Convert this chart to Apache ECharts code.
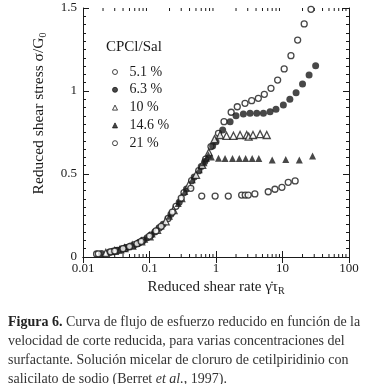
<!DOCTYPE html>
<html><head><meta charset="utf-8">
<script src="https://cdn.jsdelivr.net/npm/echarts@6/dist/echarts.min.js"></script>
<style>html,body{margin:0;padding:0;background:#fff}#c{width:368px;height:384px}</style>
</head><body><div id="c"></div>
<script>
const xTicks = [0.01, 0.1, 1, 10, 100];
const xMinorTicks = [0.02,0.03,0.04,0.05,0.06,0.07,0.08,0.09,0.2,0.3,0.4,0.5,0.6,0.7,0.8,0.9,2,3,4,5,6,7,8,9,20,30,40,50,60,70,80,90];
const yTicks = [0, 0.5, 1, 1.5];
const seriesNames = ['5.1 %', '6.3 %', '10 %', '14.6 %', '21 %'];

const s51 = [[0.016,0.018],[0.025,0.029],[0.033,0.040],[0.039,0.048],[0.045,0.057],[0.06,0.075],[0.07,0.087],[0.08,0.100],[0.105,0.132],[0.14,0.175],[0.19,0.232],[0.25,0.305],[0.33,0.388],[0.43,0.46],[0.55,0.52],[0.7,0.59],[0.84,0.665],[1.09,0.745],[1.32,0.815],[1.69,0.872],[2.09,0.905],[2.73,0.926],[3.44,0.942],[4.33,0.956],[5.33,0.98],[6.71,1.016],[8.45,1.066],[10.6,1.133],[13.4,1.213],[16.9,1.307],[21.2,1.404],[26.8,1.492]];
const s63 = [[0.019,0.021],[0.028,0.034],[0.032,0.039],[0.038,0.047],[0.044,0.055],[0.052,0.066],[0.07,0.088],[0.092,0.116],[0.12,0.15],[0.16,0.197],[0.21,0.258],[0.28,0.33],[0.36,0.41],[0.47,0.482],[0.6,0.545],[0.68,0.575],[0.89,0.669],[1.0,0.695],[1.26,0.765],[1.63,0.815],[2.0,0.851],[2.58,0.861],[3.25,0.866],[4.1,0.866],[5.16,0.866],[6.5,0.875],[7.98,0.89],[10.3,0.916],[12.9,0.95],[16.0,0.99],[20.0,1.042],[25.1,1.096],[31.5,1.152]];
const s10 = [[0.022,0.025],[0.03,0.037],[0.036,0.044],[0.042,0.053],[0.055,0.069],[0.075,0.094],[0.1,0.125],[0.13,0.163],[0.175,0.215],[0.23,0.283],[0.3,0.355],[0.39,0.435],[0.5,0.495],[0.62,0.555],[0.78,0.63],[0.95,0.71],[1.15,0.735],[1.44,0.73],[1.83,0.73],[2.3,0.735],[2.9,0.735],[3.1,0.725],[3.6,0.735],[4.6,0.74],[5.8,0.735]];
const s146 = [[0.027,0.031],[0.035,0.043],[0.041,0.051],[0.048,0.061],[0.056,0.070],[0.065,0.081],[0.085,0.107],[0.11,0.138],[0.15,0.186],[0.2,0.245],[0.27,0.322],[0.34,0.395],[0.44,0.465],[0.56,0.525],[0.66,0.568],[0.72,0.595],[0.77,0.614],[0.85,0.602],[1.09,0.595],[1.37,0.594],[1.77,0.594],[2.24,0.594],[2.79,0.594],[3.5,0.594],[4.4,0.594],[7.0,0.585],[11.2,0.588],[17.9,0.585],[28.3,0.608]];
const s21 = [[0.017,0.019],[0.026,0.031],[0.03,0.036],[0.04,0.05],[0.05,0.063],[0.065,0.08],[0.075,0.094],[0.1,0.126],[0.125,0.157],[0.15,0.185],[0.22,0.27],[0.3,0.355],[0.418,0.414],[0.61,0.367],[0.97,0.367],[1.53,0.367],[2.43,0.373],[2.75,0.373],[3.05,0.373],[3.84,0.38],[6.1,0.393],[7.7,0.408],[9.8,0.42],[12.2,0.45],[15.5,0.458]];

const INK = '#1a1a1a';
const SERIF = '"Liberation Serif", "Times New Roman", serif';
const chart = echarts.init(document.getElementById('c'), null, {renderer: 'canvas'});

function sc(name, data, symbol, filled) {
  return {
    name: name, type: 'scatter', data: data, symbol: symbol,
    symbolSize: symbol === 'triangle' ? 7 : (filled ? 7 : 6),
    xAxisIndex: 0, yAxisIndex: 0,
    itemStyle: {color: filled ? INK : '#fff', borderColor: INK, borderWidth: filled ? 0 : 1.3},
    emphasis: {disabled: true}, animation: false
  };
}

const axisCommon = {
  axisLine: {show: true, lineStyle: {color: INK, width: 1}},
  splitLine: {show: false}
};

chart.setOption({
  animation: false,
  backgroundColor: '#fff',
  grid: {left: 83, right: 19, top: 8, bottom: 127, containLabel: false},
  xAxis: [
    Object.assign({}, axisCommon, {
      type: 'log', logBase: 10, min: xTicks[0], max: xTicks[xTicks.length - 1], position: 'bottom',
      axisTick: {show: true, inside: true, length: 6, lineStyle: {color: INK}},
      axisLabel: {show: true, margin: 5, color: INK, fontFamily: SERIF, fontSize: 13,
        formatter: function (v) { return String(v); }},
      name: 'Reduced shear rate {g|γ̇τ}{s|R}', nameLocation: 'middle', nameGap: 20,
      nameTextStyle: {color: INK, fontFamily: SERIF, fontSize: 15,
        rich: {g: {fontFamily: SERIF, fontSize: 15, color: INK}, s: {fontFamily: SERIF, fontSize: 10, color: INK, padding: [8, 0, 0, 0]}}}
    }),
    Object.assign({}, axisCommon, {
      type: 'log', logBase: 10, min: xTicks[0], max: xTicks[xTicks.length - 1], position: 'top',
      axisTick: {show: true, inside: true, length: 6, lineStyle: {color: INK}},
      axisLabel: {show: false}
    })
  ],
  yAxis: [
    Object.assign({}, axisCommon, {
      type: 'value', min: yTicks[0], max: yTicks[yTicks.length - 1], interval: 0.5, position: 'left',
      axisTick: {show: true, inside: true, length: 6, lineStyle: {color: INK}},
      minorTick: {show: true, splitNumber: 10, length: 3, lineStyle: {color: INK}},
      axisLabel: {show: true, margin: 6, color: INK, fontFamily: SERIF, fontSize: 13,
        formatter: function (v) { return String(v); }},
      name: 'Reduced shear stress σ/G{s|0}', nameLocation: 'middle', nameGap: 35, nameRotate: 90,
      nameTextStyle: {color: INK, fontFamily: SERIF, fontSize: 15.5, padding: [0, 0, 0, 38],
        rich: {s: {fontFamily: SERIF, fontSize: 10, color: INK, padding: [8, 0, 0, 0]}}}
    }),
    Object.assign({}, axisCommon, {
      type: 'value', min: yTicks[0], max: yTicks[yTicks.length - 1], interval: 0.5, position: 'right',
      axisTick: {show: true, inside: true, length: 6, lineStyle: {color: INK}},
      minorTick: {show: true, splitNumber: 10, length: 3, lineStyle: {color: INK}},
      axisLabel: {show: false}
    })
  ],
  legend: {
    show: true, orient: 'vertical', left: 107, top: 60,
    data: seriesNames, itemWidth: 5, itemHeight: 5, itemGap: 3.8,
    itemStyle: {borderWidth: 1},
    textStyle: {color: INK, fontFamily: SERIF, fontSize: 14, lineHeight: 14, padding: [0, 0, 0, 7]},
    selectedMode: false
  },
  graphic: [
    {type: 'text', left: 106, top: 40, silent: true,
      style: {text: 'CPCl/Sal', fill: INK, fontSize: 15, fontFamily: SERIF}},
    {type: 'text', left: 8, top: 313, silent: true,
      style: {
        text: '{b|Figura 6.} Curva de flujo de esfuerzo reducido en función de la\nvelocidad de corte reducida, para varias concentraciones del\nsurfactante. Solución micelar de cloruro de cetilpiridinio con\nsalicilato de sodio (Berret {i|et al.}, 1997).',
        fill: '#333', fontSize: 14, fontFamily: SERIF, lineHeight: 19,
        rich: {
          b: {fontWeight: 'bold', fontFamily: SERIF, fontSize: 14, fill: '#222', lineHeight: 19},
          i: {fontStyle: 'italic', fontFamily: SERIF, fontSize: 14, fill: '#333', lineHeight: 19}
        }
      }}
  ],
  series: [
    sc(seriesNames[0], s51, 'circle', false),
    sc(seriesNames[1], s63, 'circle', true),
    sc(seriesNames[2], s10, 'triangle', false),
    sc(seriesNames[3], s146, 'triangle', true),
    sc(seriesNames[4], s21, 'circle', false),
    {
      type: 'custom', name: 'minor', xAxisIndex: 0, yAxisIndex: 0, silent: true, animation: false,
      data: xMinorTicks.map(function (v) { return [v, yTicks[0]]; }),
      renderItem: function (params, api) {
        const b = api.coord([api.value(0), yTicks[0]]);
        const t = api.coord([api.value(0), yTicks[yTicks.length - 1]]);
        return {type: 'group', children: [
          {type: 'line', shape: {x1: b[0], y1: b[1], x2: b[0], y2: b[1] - 3}, style: {stroke: INK, lineWidth: 1}},
          {type: 'line', shape: {x1: t[0], y1: t[1], x2: t[0], y2: t[1] + 3}, style: {stroke: INK, lineWidth: 1}}
        ]};
      }
    }
  ]
});
</script></body></html>
